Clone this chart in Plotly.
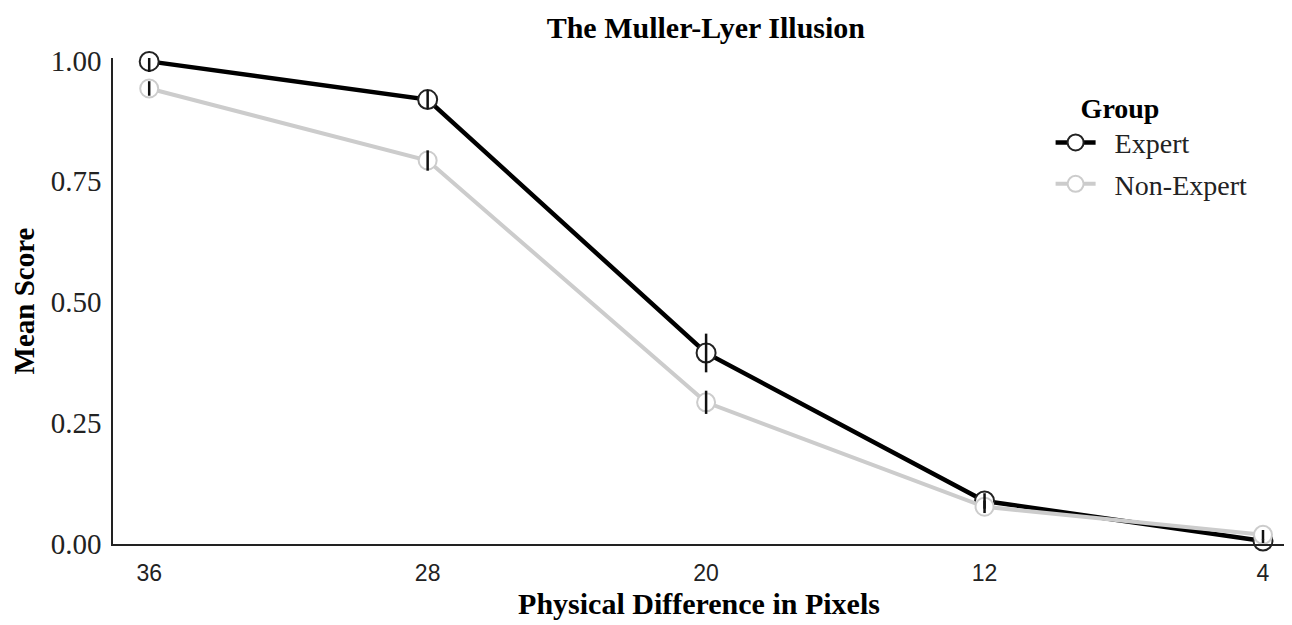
import plotly.graph_objects as go

pixels = ["36", "28", "20", "12", "4"]
expert = [0.998, 0.919, 0.395, 0.089, 0.006]
expert_err = [0.022, 0.019, 0.040, 0.016, 0.004]
non_expert = [0.942, 0.793, 0.293, 0.077, 0.019]
non_expert_err = [0.015, 0.021, 0.024, 0.013, 0.010]

SERIF = "Liberation Serif"
SANS = "Liberation Sans Narrow, Liberation Sans, Arial"

fig = go.Figure()

fig.add_trace(go.Scatter(
    x=pixels, y=expert, name="\u00a0\u00a0Expert", legendgroup="e", mode="lines+markers",
    line=dict(color="black", width=4.5),
    marker=dict(symbol="circle", size=19, color="white", line=dict(color="#222222", width=2)),
    cliponaxis=False,
))
fig.add_trace(go.Scatter(
    x=pixels, y=non_expert, name="\u00a0\u00a0Non-Expert", legendgroup="n", mode="lines+markers",
    line=dict(color="#cccccc", width=4),
    marker=dict(symbol="circle", size=18, color="white", line=dict(color="#cccccc", width=2)),
    cliponaxis=False,
))
# error bars drawn on top of the markers
for vals, errs in [(expert, expert_err), (non_expert, non_expert_err)]:
    fig.add_trace(go.Scatter(
        x=pixels, y=vals, mode="markers", showlegend=False, hoverinfo="skip",
        marker=dict(size=0.1, color="rgba(0,0,0,0)"),
        error_y=dict(type="data", array=errs, color="#111111", thickness=2.5, width=0),
        cliponaxis=False,
    ))

fig.update_layout(
    width=1284, height=617,
    paper_bgcolor="white", plot_bgcolor="white",
    margin=dict(l=105, r=7, t=50, b=81),
    font=dict(family=SERIF, size=29, color="#222222"),
    title=dict(text="<b>The Muller-Lyer Illusion</b>", x=0.5435, xanchor="center",
               y=0.969, yanchor="middle", font=dict(size=30, color="black")),
    xaxis=dict(
        type="category", range=[-0.13, 4.079],
        showline=True, linecolor="#222222", linewidth=1.5,
        showgrid=False, zeroline=False, ticks="", automargin=False,
        tickfont=dict(family=SANS, size=23), ticklabelstandoff=8,
        title=dict(text="<b>Physical Difference in Pixels</b>", font=dict(size=30, color="black"), standoff=8),
    ),
    yaxis=dict(
        range=[0, 1.005], tickvals=[0, 0.25, 0.5, 0.75, 1.0], tickformat=".2f",
        showline=True, linecolor="#222222", linewidth=1.5,
        showgrid=False, zeroline=False, ticks="", automargin=False,
        tickfont=dict(size=29), ticklabelstandoff=4,
        title=dict(text="<b>Mean Score</b>", font=dict(size=29, color="black"), standoff=8),
    ),
    legend=dict(
        x=0.80, y=0.952, xanchor="left", yanchor="top",
        title=dict(text="<b>    Group</b>", font=dict(size=28, color="black")),
        font=dict(size=28, color="#222222"),
        bgcolor="rgba(0,0,0,0)", itemwidth=40, tracegroupgap=2,
    ),
)

fig.write_html("out.html")
